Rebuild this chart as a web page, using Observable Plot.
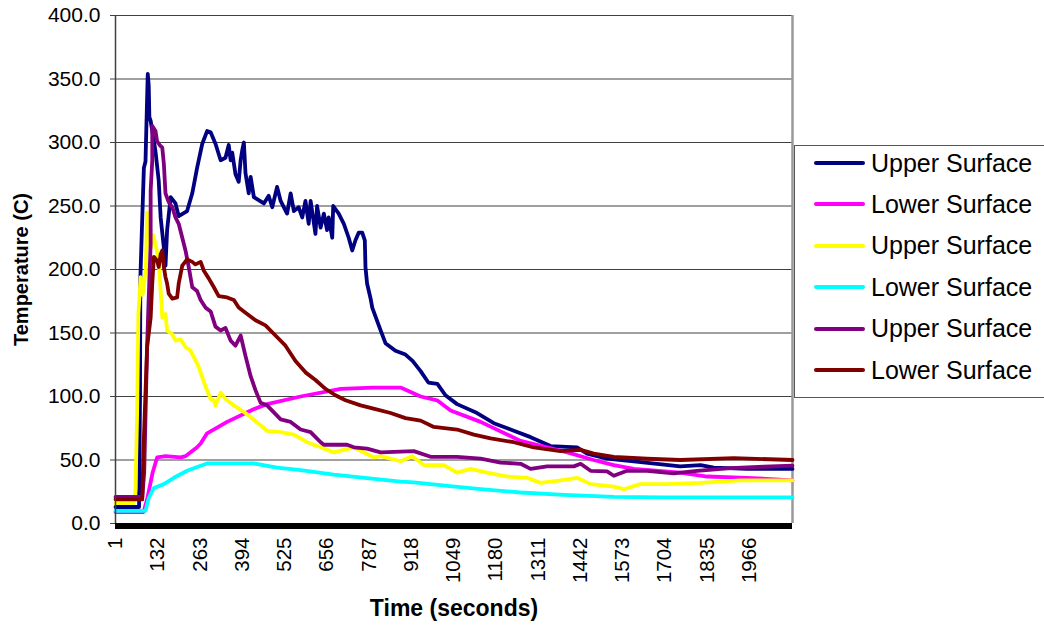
<!DOCTYPE html>
<html>
<head>
<meta charset="utf-8">
<script src="https://cdn.jsdelivr.net/npm/d3@7"></script>
<script src="https://cdn.jsdelivr.net/npm/@observablehq/plot@0.6"></script>
<style>
  html, body { margin: 0; padding: 0; background: #fff; overflow: hidden; }
  #chart { position: relative; width: 1044px; height: 625px; }
  .legend {
    position: absolute; left: 794px; top: 145px; width: 270px; height: 251px;
    border: 1px solid #555; background: #fff;
    font-family: "Liberation Sans", Arial, sans-serif; font-size: 25px; color: #000;
  }
  .legend .row { position: absolute; left: 0; height: 30px; display: flex; align-items: center; white-space: nowrap; }
  .legend .sw { width: 51px; height: 4px; margin-left: 19px; margin-right: 6px; border-radius: 2px; }
</style>
</head>
<body>
<div id="chart"></div>
<script>
// Axis ticks
const xTicks = [1, 132, 263, 394, 525, 656, 787, 918, 1049, 1180, 1311, 1442, 1573, 1704, 1835, 1966];
const yTicks = [0, 50, 100, 150, 200, 250, 300, 350, 400];

// Series names and colours (legend order)
const seriesNames = ["Upper Surface", "Lower Surface", "Upper Surface", "Lower Surface", "Upper Surface", "Lower Surface"];
const seriesColors = ["#000080", "#ff00ff", "#ffff00", "#00ffff", "#800080", "#800000"];

// Temperature readings: [time (s), temperature (C)]
const upper1 = [[1,13],[74,13],[77,100],[78,192],[82,225],[89,280],[94,285],[101,354],[104,345],[106,320],[110,317],[125,293],[135,270],[141,241],[151,217],[156,203],[161,231],[172,257],[187,252],[197,242],[223,246],[239,260],[254,280],[270,299],[285,309],[296,308],[311,299],[327,286],[342,288],[352,298],[358,286],[363,292],[373,275],[383,269],[389,286],[394,294],[399,300],[404,276],[414,260],[420,273],[430,257],[461,252],[476,258],[487,249],[502,265],[513,254],[533,244],[544,260],[554,246],[569,249],[580,241],[590,254],[600,236],[606,254],[621,228],[626,250],[637,233],[647,244],[657,231],[662,241],[673,225],[676,250],[693,244],[709,236],[724,225],[735,215],[745,223],[755,229],[766,229],[774,223],[776,202],[781,189],[792,177],[797,170],[823,152],[838,142],[869,136],[900,133],[922,128],[947,120],[971,111],[999,110],[1024,101],[1060,94],[1122,87],[1174,79],[1236,73],[1288,68],[1350,61],[1432,60],[1463,55],[1525,51],[1608,49],[1680,47],[1752,45],[1815,46],[1856,44],[1959,43],[2100,43]];
const lower1 = [[1,9],[88,9],[100,20],[116,40],[130,52],[141,52.5],[156,53],[203,52],[218,53],[254,60],[265,63],[285,71],[347,80],[429,90],[471,94],[575,100],[699,106],[800,107],[885,107],[947,100],[998,97],[1040,89],[1133,80],[1257,65],[1402,56],[1483,50],[1546,46],[1608,43],[1752,40],[1835,37],[1959,36],[2100,34]];
const upper2 = [[1,16],[57,16],[63,26],[68,86],[72,165],[79,194],[85,180],[95,200],[99,245],[104,235],[110,217],[118,227],[125,220],[135,207],[141,183],[146,162],[156,165],[161,152],[177,149],[187,144],[203,145],[218,139],[234,136],[258,124],[280,108],[296,98],[306,97],[311,93],[327,103],[342,98],[368,93],[409,86],[471,73],[513,72],[554,70],[595,64],[637,60],[678,56],[740,60],[802,52],[823,53],[885,49],[921,53],[957,46],[1019,46],[1060,40],[1102,43],[1153,40],[1216,37],[1277,36],[1319,32],[1381,34],[1432,36],[1474,31],[1546,29],[1577,27],[1628,31],[1711,31],[1815,32],[1939,34],[2100,34]];
const lower2 = [[1,10],[94,10],[104,20],[120,28],[151,31],[182,36],[223,41.5],[265,45.5],[285,47.3],[430,47.3],[502,44],[575,42],[678,38.4],[781,35.8],[885,33],[926,32.3],[1029,29.7],[1133,27.1],[1257,24.4],[1391,22.6],[1546,21],[1700,20.5],[2100,20.5]];
const upper3 = [[1,21],[84,21],[90,40],[99,139],[104,178],[110,220],[110,262],[115,286],[115,313],[125,309],[130,301],[138,298],[146,296],[151,283],[156,260],[166,253],[177,249],[187,241],[197,236],[208,225],[218,215],[228,202],[239,186],[254,183],[265,176],[280,170],[296,167],[311,155],[327,152],[342,154],[358,144],[373,140],[389,148],[404,132],[420,116],[435,105],[451,95],[471,93],[492,87.5],[513,82],[544,80],[575,74],[606,72],[637,64],[647,62],[719,62],[740,60],[781,59],[823,56],[926,57],[978,52.5],[1060,52.5],[1133,51],[1195,48],[1257,47],[1288,43],[1339,45],[1422,45],[1443,47],[1474,41.5],[1525,41],[1546,37.6],[1587,41.5],[1649,41.5],[1732,39.4],[1804,41.5],[1908,43.6],[2011,44.7],[2100,45.5]];
const lower3 = [[1,19],[84,19],[88,60],[99,139],[110,162],[115,189],[120,210],[130,207],[135,202],[141,212],[146,215],[151,202],[156,194],[161,189],[166,181],[177,177],[192,178],[197,189],[208,203],[223,208],[239,206],[249,204],[265,206],[275,199],[290,193],[306,186],[321,179],[347,178],[368,176],[383,170],[404,166],[435,160],[466,156],[497,148],[528,140],[559,128],[590,119],[621,113],[652,106],[683,101],[714,97],[761,93],[807,90],[854,87],[900,83],[947,81],[988,76],[1060,74],[1112,70],[1164,67],[1236,64],[1298,60],[1381,57],[1443,58],[1484,55],[1546,52.5],[1649,51],[1752,50],[1918,51.5],[2100,50]];

const seriesData = [upper1, lower1, upper2, lower2, upper3, lower3];

const font = "'Liberation Sans', Arial, sans-serif";

const lineMarks = seriesData.map((rows, i) =>
  Plot.line(rows, {
    x: d => d[0], y: d => d[1],
    stroke: seriesColors[i], strokeWidth: 3.8,
    strokeLinejoin: "round", strokeLinecap: "round"
  })
);

const plot = Plot.plot({
  width: 1044,
  height: 625,
  marginLeft: 115,
  marginRight: 252,
  marginTop: 15,
  marginBottom: 102,
  style: { fontFamily: font, color: "#000", background: "#fff", overflow: "visible" },
  x: { domain: [1, 2100] },
  y: { domain: [0, 400] },
  marks: [
    Plot.gridY(yTicks, { stroke: "#404040", strokeOpacity: 1, strokeWidth: 1.2 }),
    Plot.ruleX([2100], { stroke: "#999", strokeWidth: 2.5 }),
    Plot.axisY(yTicks, {
      tickSize: 5, tickPadding: 10, tickFormat: d3.format(".1f"),
      fontSize: 21, label: null, stroke: "#404040"
    }),
    Plot.axisY({
      ticks: [], label: "Temperature (C)", labelAnchor: "center", labelArrow: "none",
      labelOffset: 102, fontSize: 20, fontWeight: "bold"
    }),
    ...lineMarks,
    Plot.ruleX([1], { stroke: "#404040", strokeWidth: 1.5 }),
    Plot.ruleY([0], { stroke: "#000", strokeWidth: 6, dy: 2.5 }),
    Plot.axisX(xTicks, {
      tickSize: 0, tickPadding: 14, tickRotate: -90, fontSize: 20.5, label: null,
      tickFormat: d => String(d)
    }),
    Plot.axisX({
      ticks: [], label: "Time (seconds)", labelAnchor: "center", labelArrow: "none",
      labelOffset: 92, fontSize: 23, fontWeight: "bold"
    })
  ]
});

const container = document.getElementById("chart");
container.appendChild(plot);

// Legend box on the right of the plot area
const legend = document.createElement("div");
legend.className = "legend";
seriesNames.forEach((name, i) => {
  const row = document.createElement("div");
  row.className = "row";
  row.style.top = (2 + i * 41.4) + "px";
  const sw = document.createElement("span");
  sw.className = "sw";
  sw.style.background = seriesColors[i];
  const label = document.createElement("span");
  label.textContent = name;
  row.appendChild(sw);
  row.appendChild(label);
  legend.appendChild(row);
});
container.appendChild(legend);
</script>
</body>
</html>
